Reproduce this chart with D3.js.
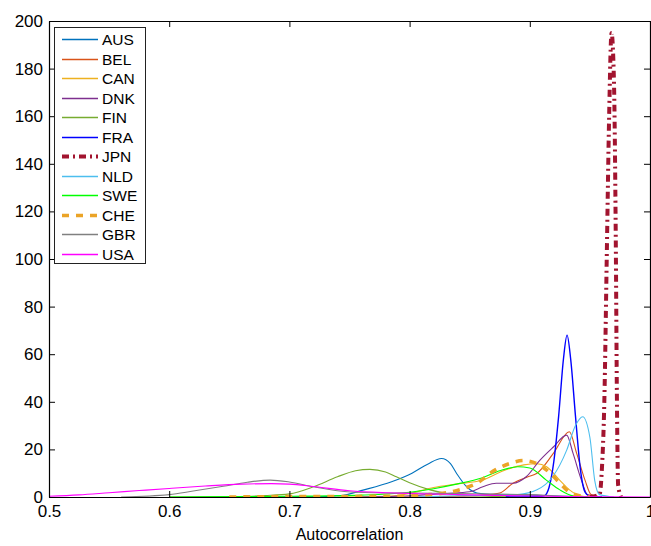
<!DOCTYPE html>
<html>
<head>
<meta charset="utf-8">
<script src="https://cdn.jsdelivr.net/npm/d3@7.9.0/dist/d3.min.js"></script>
<style>
  body { margin: 0; background: #fff; }
  svg { display: block; font-family: "Liberation Sans", Arial, sans-serif; }
</style>
</head>
<body>
<svg id="chart" width="651" height="546"></svg>
<script>
// density estimates: [autocorrelation, density]
const countries = ['AUS', 'BEL', 'CAN', 'DNK', 'FIN', 'FRA', 'JPN', 'NLD', 'SWE', 'CHE', 'GBR', 'USA'];
const colors = ['#0072BD', '#D95319', '#EDB120', '#7E2F8E', '#77AC30', '#0000FF',
                '#A2142F', '#4DBEEE', '#00FF00', '#EBA427', '#808080', '#FF00FF'];

const aus = [[0.65,0],[0.72,0.1],[0.742,0.5],[0.762,3],[0.785,6.4],[0.802,10],[0.815,13.8],[0.8265,16.2],[0.834,14],[0.839,10],[0.8475,4.3],[0.856,1.7],[0.87,1],[0.9,0.8],[0.93,0.3],[0.96,0]];
const bel = [[0.78,0],[0.84,0.3],[0.86,0.8],[0.875,1.7],[0.886,5.8],[0.8985,8.5],[0.906,10],[0.9196,18.3],[0.9329,27.4],[0.939,18.3],[0.946,7],[0.951,1],[0.96,0]];
const can = [[0.74,0],[0.78,0.3],[0.80,1.5],[0.82,4],[0.84,5.5],[0.86,7],[0.878,11],[0.895,13.5],[0.906,14],[0.914,12.7],[0.925,7],[0.933,3],[0.942,0.5],[0.95,0]];
const dnk = [[0.76,0],[0.80,0.5],[0.83,1.5],[0.85,2.2],[0.861,4.3],[0.872,5.8],[0.886,5.8],[0.897,8.5],[0.9085,15.5],[0.9196,21],[0.9307,26],[0.936,18.3],[0.943,7],[0.948,1],[0.96,0]];
const fin = [[0.6,0],[0.65,0.2],[0.68,0.6],[0.70,1.3],[0.72,4.3],[0.74,8.5],[0.755,11],[0.767,11.6],[0.78,10.5],[0.789,8.5],[0.80,6],[0.817,3],[0.831,1.5],[0.85,0.5],[0.9,0]];
const fra = [[0.88,0],[0.905,0.1],[0.912,0.5],[0.916,4],[0.920,15],[0.924,34],[0.928,58],[0.931,68],[0.934,58],[0.938,34],[0.942,12],[0.946,2],[0.95,0.3],[0.96,0]];
const jpn = [[0.95,0],[0.958,1],[0.960,12],[0.962,40],[0.964,100],[0.966,160],[0.968,195],[0.970,175],[0.9715,110],[0.9725,40],[0.9735,5],[0.976,0]];
const nld = [[0.80,0],[0.84,0.5],[0.88,0.8],[0.89,1],[0.906,3],[0.919,8.5],[0.9307,19.7],[0.938,30],[0.944,33.7],[0.950,25],[0.954,7],[0.958,1],[0.97,0]];
const swe = [[0.6,0],[0.70,0.3],[0.76,0.8],[0.80,2],[0.82,3.5],[0.84,5.5],[0.86,8],[0.875,11],[0.89,12.7],[0.90,12.2],[0.914,7],[0.925,3],[0.936,0.5],[0.95,0]];
const che = [[0.65,0],[0.70,0.2],[0.78,0.3],[0.817,1],[0.845,3.6],[0.858,6.4],[0.867,10],[0.8835,14.1],[0.8946,15.3],[0.906,14],[0.917,10],[0.925,5.8],[0.933,2],[0.942,0.5],[0.95,0]];
const gbr = [[0.56,0],[0.6,1],[0.62,2.5],[0.645,4.5],[0.665,6.2],[0.684,7.1],[0.70,6.3],[0.72,4.3],[0.748,2.2],[0.78,1.7],[0.82,1.6],[0.86,1.3],[0.9,1.0],[0.92,0.5],[0.94,0]];
const usa = [[0.5,0.3],[0.525,0.9],[0.55,1.8],[0.575,2.7],[0.6,3.6],[0.63,4.6],[0.66,5.4],[0.685,5.6],[0.70,5.4],[0.72,4.4],[0.75,2.6],[0.78,1.8],[0.80,1.5],[0.84,1.0],[0.87,0.7],[0.9,0.4],[0.95,0.1],[1.0,0]];
const series = [aus, bel, can, dnk, fin, fra, jpn, nld, swe, che, gbr, usa];

const xTicks = [0.5, 0.6, 0.7, 0.8, 0.9, 1];
const yTicks = [0, 20, 40, 60, 80, 100, 120, 140, 160, 180, 200];

// line styles per country
const widths = {JPN: 4, CHE: 3.5, FRA: 1.4};
const dashes = {JPN: '7,4,2,4', CHE: '7,7'};

const svg = d3.select('#chart');
const m = {left: 49, right: 650, top: 21, bottom: 497};

const x = d3.scaleLinear().domain([0.5, 1]).range([m.left, m.right]);
const y = d3.scaleLinear().domain([0, 200]).range([m.bottom, m.top]);

svg.append('defs').append('clipPath').attr('id', 'clip')
  .append('rect')
  .attr('x', m.left).attr('y', m.top)
  .attr('width', m.right - m.left).attr('height', m.bottom - m.top);

const line = d3.line()
  .x(d => x(d[0]))
  .y(d => y(d[1]))
  .curve(d3.curveMonotoneX);

const plot = svg.append('g').attr('clip-path', 'url(#clip)');
series.forEach((s, i) => {
  const name = countries[i];
  plot.append('path')
    .attr('d', line(s))
    .attr('fill', 'none')
    .attr('stroke', colors[i])
    .attr('stroke-width', widths[name] || 1.1)
    .attr('stroke-dasharray', dashes[name] || null);
});

// axes, inward ticks on all four sides (box on)
const tickLen = 6;
const axB = svg.append('g').attr('transform', `translate(0,${m.bottom})`)
  .call(d3.axisBottom(x).tickValues(xTicks).tickSizeInner(-tickLen).tickSizeOuter(0).tickPadding(10).tickFormat(d3.format('')));
const axT = svg.append('g').attr('transform', `translate(0,${m.top})`)
  .call(d3.axisTop(x).tickValues(xTicks).tickSizeInner(-tickLen).tickSizeOuter(0).tickFormat(''));
const axL = svg.append('g').attr('transform', `translate(${m.left},0)`)
  .call(d3.axisLeft(y).tickValues(yTicks).tickSizeInner(-tickLen).tickSizeOuter(0).tickPadding(6));
const axR = svg.append('g').attr('transform', `translate(${m.right},0)`)
  .call(d3.axisRight(y).tickValues(yTicks).tickSizeInner(-tickLen).tickSizeOuter(0).tickFormat(''));

[axB, axT, axL, axR].forEach(a => {
  a.selectAll('.domain').attr('stroke', '#000').attr('stroke-width', 1.2);
  a.selectAll('.tick line').attr('stroke', '#000');
  a.selectAll('text').attr('font-size', 17).attr('fill', '#000')
    .attr('font-family', '"Liberation Sans", Arial, sans-serif');
});
axB.selectAll('text').attr('dy', '0.71em').attr('y', 8);

svg.append('text')
  .attr('x', (m.left + m.right) / 2)
  .attr('y', 540)
  .attr('text-anchor', 'middle')
  .attr('font-size', 16)
  .text('Autocorrelation');

// legend
const lg = svg.append('g');
lg.append('rect')
  .attr('x', 54.5).attr('y', 27.5)
  .attr('width', 91).attr('height', 236)
  .attr('fill', '#fff').attr('stroke', '#222').attr('stroke-width', 1);
countries.forEach((name, i) => {
  const yy = Math.round(39 + i * 19.5) + 0.5;
  lg.append('line')
    .attr('x1', 62).attr('x2', 98)
    .attr('y1', yy).attr('y2', yy)
    .attr('stroke', colors[i])
    .attr('stroke-width', widths[name] || 1.5)
    .attr('stroke-dasharray', dashes[name] || null);
  lg.append('text')
    .attr('x', 102).attr('y', yy)
    .attr('dy', '0.36em')
    .attr('font-size', 15.5)
    .text(name);
});
</script>
</body>
</html>
